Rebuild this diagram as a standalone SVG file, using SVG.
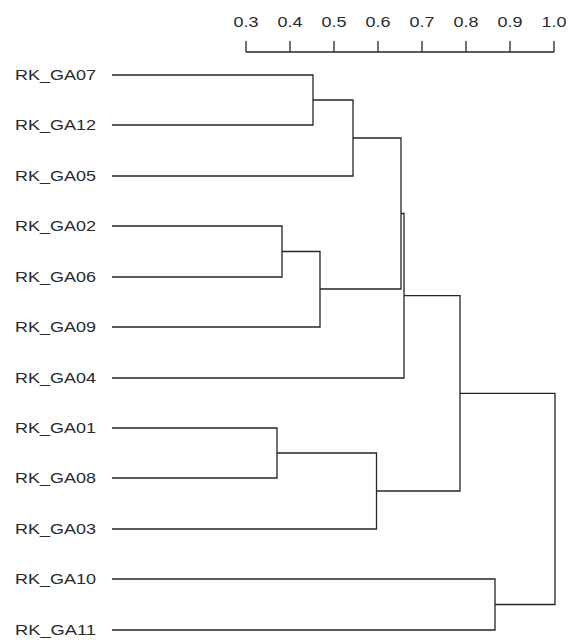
<svg xmlns="http://www.w3.org/2000/svg" width="569" height="642" viewBox="0 0 569 642">
<style>
.lbl{font-family:"Liberation Sans",Arial,sans-serif;font-size:15.5px;fill:#2a2a2a}
.ax{font-family:"Liberation Sans",Arial,sans-serif;font-size:14px;fill:#2a2a2a;text-anchor:middle}
.ln{fill:none;stroke:#262626;stroke-width:1.3}
</style>
<rect width="569" height="642" fill="#ffffff"/>
<g id="axis">
<path class="ln" d="M246 52 H554 M246 41 V52 M290 41 V52 M334 41 V52 M378 41 V52 M422 41 V52 M466 41 V52 M510 41 V52 M554 41 V52"/>
<text class="ax" x="246" y="27" textLength="25" lengthAdjust="spacingAndGlyphs">0.3</text>
<text class="ax" x="290" y="27" textLength="25" lengthAdjust="spacingAndGlyphs">0.4</text>
<text class="ax" x="334" y="27" textLength="25" lengthAdjust="spacingAndGlyphs">0.5</text>
<text class="ax" x="378" y="27" textLength="25" lengthAdjust="spacingAndGlyphs">0.6</text>
<text class="ax" x="422" y="27" textLength="25" lengthAdjust="spacingAndGlyphs">0.7</text>
<text class="ax" x="466" y="27" textLength="25" lengthAdjust="spacingAndGlyphs">0.8</text>
<text class="ax" x="510" y="27" textLength="25" lengthAdjust="spacingAndGlyphs">0.9</text>
<text class="ax" x="554" y="27" textLength="25" lengthAdjust="spacingAndGlyphs">1.0</text>
</g>
<g id="leaf-GA07"><text class="lbl" x="15" y="79.5" textLength="81" lengthAdjust="spacingAndGlyphs">RK_GA07</text></g>
<g id="leaf-GA12"><text class="lbl" x="15" y="129.5" textLength="81" lengthAdjust="spacingAndGlyphs">RK_GA12</text></g>
<g id="leaf-GA05"><text class="lbl" x="15" y="180.5" textLength="81" lengthAdjust="spacingAndGlyphs">RK_GA05</text></g>
<g id="leaf-GA02"><text class="lbl" x="15" y="230.5" textLength="81" lengthAdjust="spacingAndGlyphs">RK_GA02</text></g>
<g id="leaf-GA06"><text class="lbl" x="15" y="281.5" textLength="81" lengthAdjust="spacingAndGlyphs">RK_GA06</text></g>
<g id="leaf-GA09"><text class="lbl" x="15" y="331.5" textLength="81" lengthAdjust="spacingAndGlyphs">RK_GA09</text></g>
<g id="leaf-GA04"><text class="lbl" x="15" y="382.5" textLength="81" lengthAdjust="spacingAndGlyphs">RK_GA04</text></g>
<g id="leaf-GA01"><text class="lbl" x="15" y="432.5" textLength="81" lengthAdjust="spacingAndGlyphs">RK_GA01</text></g>
<g id="leaf-GA08"><text class="lbl" x="15" y="482.5" textLength="81" lengthAdjust="spacingAndGlyphs">RK_GA08</text></g>
<g id="leaf-GA03"><text class="lbl" x="15" y="533.5" textLength="81" lengthAdjust="spacingAndGlyphs">RK_GA03</text></g>
<g id="leaf-GA10"><text class="lbl" x="15" y="583.5" textLength="81" lengthAdjust="spacingAndGlyphs">RK_GA10</text></g>
<g id="leaf-GA11"><text class="lbl" x="15" y="634.5" textLength="81" lengthAdjust="spacingAndGlyphs">RK_GA11</text></g>
<g id="connectors">
<path class="ln" d="M112 75 H313 V125 H112"/>
<path class="ln" d="M313 100 H353 V176 H112"/>
<path class="ln" d="M112 226 H282 V277 H112"/>
<path class="ln" d="M282 251.5 H320 V327 H112"/>
<path class="ln" d="M353 138 H401 V289 H320"/>
<path class="ln" d="M401 213.5 H404 V378 H112"/>
<path class="ln" d="M112 428 H277 V478 H112"/>
<path class="ln" d="M277 453 H376.5 V529 H112"/>
<path class="ln" d="M404 295.7 H460 V491 H376.5"/>
<path class="ln" d="M112 579 H495 V630 H112"/>
<path class="ln" d="M460 393.4 H555 V604.5 H495"/>
</g>
</svg>
